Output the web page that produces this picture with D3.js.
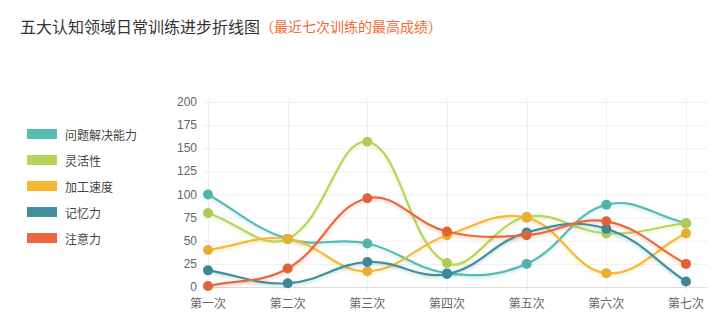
<!DOCTYPE html>
<html><head><meta charset="utf-8">
<script src="https://cdn.jsdelivr.net/npm/d3@7"></script>
<style>
html,body{margin:0;padding:0;background:#fff;}
svg{display:block;font-family:"Noto Sans CJK SC","Noto Sans",sans-serif;}
</style></head>
<body><svg id="c" width="727" height="334"></svg>
<script>
const categories = ["第一次","第二次","第三次","第四次","第五次","第六次","第七次"];
const seriesNames = ["问题解决能力","灵活性","加工速度","记忆力","注意力"];
const problemSolving = [100, 52, 47, 15, 25, 89, 69];
const flexibility    = [80, 52, 157, 26, 76, 58, 69];
const speed          = [40, 52, 17, 56, 75, 15, 58];
const memory         = [18, 4, 27, 14, 59, 63, 6];
const attention      = [1, 20, 96, 60, 56, 71, 25];
const yTicks = [0, 25, 50, 75, 100, 125, 150, 175, 200];
const colors = ["#55bdb4", "#b6d65a", "#f6b834", "#3f8f9c", "#ec683b"];
const titleMain = "五大认知领域日常训练进步折线图";
const titleSub = "（最近七次训练的最高成绩）";

const seriesData = [problemSolving, flexibility, speed, memory, attention];

const svg = d3.select("#c");
const defs = svg.append("defs");
const f = defs.append("filter").attr("id","glow").attr("x","-10%").attr("y","-20%").attr("width","120%").attr("height","140%");
f.append("feGaussianBlur").attr("in","SourceGraphic").attr("stdDeviation",1.5).attr("result","b");
f.append("feOffset").attr("in","b").attr("dy",1.5).attr("result","o");
const ct = f.append("feComponentTransfer").attr("in","o").attr("result","t");
ct.append("feFuncA").attr("type","linear").attr("slope",0.3);
const fm = f.append("feMerge");
fm.append("feMergeNode").attr("in","t");
fm.append("feMergeNode").attr("in","SourceGraphic");

// title
const title = svg.append("text").attr("x",20).attr("y",26).attr("dominant-baseline","central");
title.append("tspan").attr("font-size",16).attr("fill","#333").text(titleMain);
title.append("tspan").attr("font-size",14).attr("fill","#f06a38").text(titleSub);

// legend
const lg = svg.append("g");
seriesNames.forEach((n,i)=>{
  const cy = 134 + i*26;
  lg.append("rect").attr("x",27).attr("y",cy-5).attr("width",30).attr("height",10).attr("fill",colors[i]);
  lg.append("text").attr("x",65).attr("y",cy).attr("dominant-baseline","central")
    .attr("font-size",12).attr("fill","#444").text(n);
});

const x = d3.scalePoint().domain(categories).range([208, 686]);
const y = d3.scaleLinear().domain([0,200]).range([287, 102]);
const gridLeft = 203, gridRight = 707;

// horizontal grid
const g = svg.append("g");
g.selectAll("line.h").data(yTicks).join("line")
  .attr("x1",gridLeft).attr("x2",gridRight)
  .attr("y1",d=>y(d)+0.5).attr("y2",d=>y(d)+0.5)
  .attr("stroke",d=>d===0?"#d9d9d9":"#efefef").attr("stroke-width",1);
// vertical grid
g.selectAll("line.v").data(categories).join("line")
  .attr("x1",d=>Math.round(x(d))+0.5).attr("x2",d=>Math.round(x(d))+0.5)
  .attr("y1",99).attr("y2",291)
  .attr("stroke","#efefef").attr("stroke-width",1);
g.append("line").attr("x1",gridLeft).attr("x2",gridRight).attr("y1",y(0)+0.5).attr("y2",y(0)+0.5)
  .attr("stroke","#dcdcdc");

// axis labels
g.selectAll("text.y").data(yTicks).join("text")
  .attr("x",197).attr("y",d=>y(d)).attr("text-anchor","end").attr("dominant-baseline","central")
  .attr("font-family","'Liberation Sans',Arial,sans-serif")
  .attr("font-size",12).attr("fill","#666").text(d=>d);
g.selectAll("text.x").data(categories).join("text")
  .attr("x",d=>x(d)).attr("y",302).attr("text-anchor","middle").attr("dominant-baseline","central")
  .attr("font-size",12).attr("fill","#666").text(d=>d);

// Chart.js-like spline
function buildPath(pts, t, top, bottom){
  const cps = pts.map((p,i)=>{
    const prev = pts[i-1]||p, next = pts[i+1]||p;
    const d01 = Math.hypot(p.x-prev.x, p.y-prev.y);
    const d12 = Math.hypot(next.x-p.x, next.y-p.y);
    let s01 = d01/(d01+d12), s12 = d12/(d01+d12);
    if(!isFinite(s01)) s01=0; if(!isFinite(s12)) s12=0;
    const fa = t*s01, fb = t*s12;
    const cap = v=>Math.max(top, Math.min(bottom, v));
    return {
      px: p.x - fa*(next.x-prev.x), py: cap(p.y - fa*(next.y-prev.y)),
      nx: p.x + fb*(next.x-prev.x), ny: cap(p.y + fb*(next.y-prev.y))
    };
  });
  const path = d3.path();
  path.moveTo(pts[0].x, pts[0].y);
  for(let i=1;i<pts.length;i++){
    path.bezierCurveTo(cps[i-1].nx, cps[i-1].ny, cps[i].px, cps[i].py, pts[i].x, pts[i].y);
  }
  return path.toString();
}

const plot = svg.append("g");
seriesData.forEach((vals,i)=>{
  const pts = vals.map((v,j)=>({x:x(categories[j]), y:y(v)}));
  const sg = plot.append("g");
  sg.append("path").attr("d", buildPath(pts, 0.4, 102, 287))
    .attr("fill","none").attr("stroke",colors[i]).attr("stroke-width",2.2)
    .attr("filter","url(#glow)");
  sg.selectAll("circle").data(pts).join("circle")
    .attr("cx",d=>d.x).attr("cy",d=>d.y).attr("r",5)
    .attr("fill", d3.color(colors[i]).darker(0.15).formatHex());
});
</script></body></html>
